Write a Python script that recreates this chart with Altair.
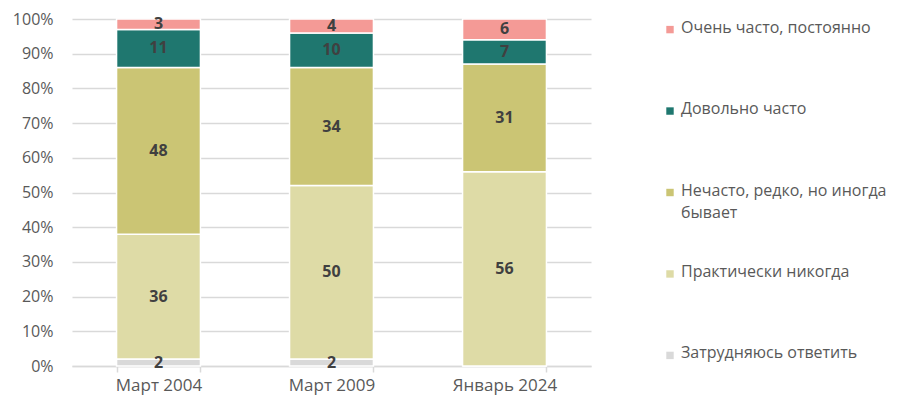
import altair as alt
import pandas as pd

periods = ["Март 2004", "Март 2009", "Январь 2024"]
answers = [
    "Затрудняюсь ответить",
    "Практически никогда",
    "Нечасто, редко, но иногда бывает",
    "Довольно часто",
    "Очень часто, постоянно",
]
legend_labels = [
    "Очень часто, постоянно",
    "Довольно часто",
    "Нечасто, редко, но иногда\nбывает",
    "Практически никогда",
    "Затрудняюсь ответить",
]
values_2004 = [2, 36, 48, 11, 3]
values_2009 = [2, 50, 34, 10, 4]
values_2024 = [0, 56, 31, 7, 6]
colors = ["#D9D9D9", "#DEDBA6", "#CBC574", "#1F776F", "#F49A96"]

rows = []
for period, vals in zip(periods, [values_2004, values_2009, values_2024]):
    for i, (a, v) in enumerate(zip(answers, vals)):
        rows.append({"period": period, "answer": a, "value": v, "idx": i})
df = pd.DataFrame(rows)

FONT = "Open Sans"
GREY = "#595959"
color_scale = alt.Scale(domain=answers, range=colors)
H = 347

x_scale = alt.Scale(paddingInner=0.515, paddingOuter=0.2575)
x_axis = alt.Axis(labelAngle=0, tickBand="extent", domainColor="#D9D9D9", tickColor="#D9D9D9",
                  tickSize=6, domainWidth=1.5, tickWidth=1.5, labelPadding=5, labelFontSize=17,
                  labelColor=GREY, labelFont=FONT)
y_scale = alt.Scale(domain=[0, 100], nice=False)
y_axis = alt.Axis(values=list(range(0, 101, 10)), labelExpr="datum.value + '%'",
                  labelOverlap=False,
                  grid=True, gridColor="#D9D9D9", gridWidth=1.5, domain=False, ticks=False,
                  labelPadding=19, labelFontSize=16, labelColor=GREY, labelFont=FONT)

base = alt.Chart(df)
bars = base.mark_bar(stroke="white", strokeWidth=1.5).encode(
    x=alt.X("period:N", sort=periods, title=None, scale=x_scale, axis=x_axis),
    y=alt.Y("value:Q", stack="zero", title=None, scale=y_scale, axis=y_axis),
    color=alt.Color("answer:N", scale=color_scale, legend=None),
    order=alt.Order("idx:Q", sort="ascending"),
)

labels = base.transform_stack(
    stack="value", as_=["y0", "y1"], groupby=["period"], sort=[alt.SortField("idx")]
).transform_filter("datum.value > 0").transform_calculate(
    mid="(datum.y0 + datum.y1) / 2"
).mark_text(fontWeight="bold", fontSize=16, color="#404040", font=FONT).encode(
    x=alt.X("period:N", sort=periods, title=None, scale=x_scale, axis=x_axis),
    y=alt.Y("mid:Q", title=None, scale=y_scale, axis=y_axis),
    text=alt.Text("value:Q"),
)

main = alt.layer(bars, labels).properties(width=519, height=H)

leg_df = pd.DataFrame({"lanswer": answers[::-1], "label": legend_labels})
leg_y = alt.Y("lanswer:N", sort=answers[::-1], axis=None,
              scale=alt.Scale(type="point", padding=0.13))
leg_base = alt.Chart(leg_df)
sq = leg_base.mark_square(size=55, opacity=1).encode(
    y=leg_y, x=alt.value(5),
    color=alt.Color("lanswer:N", scale=color_scale, legend=None),
)
txt = leg_base.mark_text(align="left", baseline="top", dy=-10, lineBreak="\n",
                         fontSize=16, color=GREY, font=FONT, lineHeight=22).encode(
    y=leg_y, x=alt.value(16), text="label:N",
)
legend = alt.layer(sq, txt).properties(width=190, height=H)

chart = alt.hconcat(main, legend, spacing=74).resolve_scale(
    x="independent", y="independent"
).properties(
    padding={"left": 4, "top": 3, "right": 0, "bottom": 6}
).configure(font=FONT).configure_view(strokeWidth=0)

chart.save("out.html", embed_options={"renderer": "svg", "actions": False})
